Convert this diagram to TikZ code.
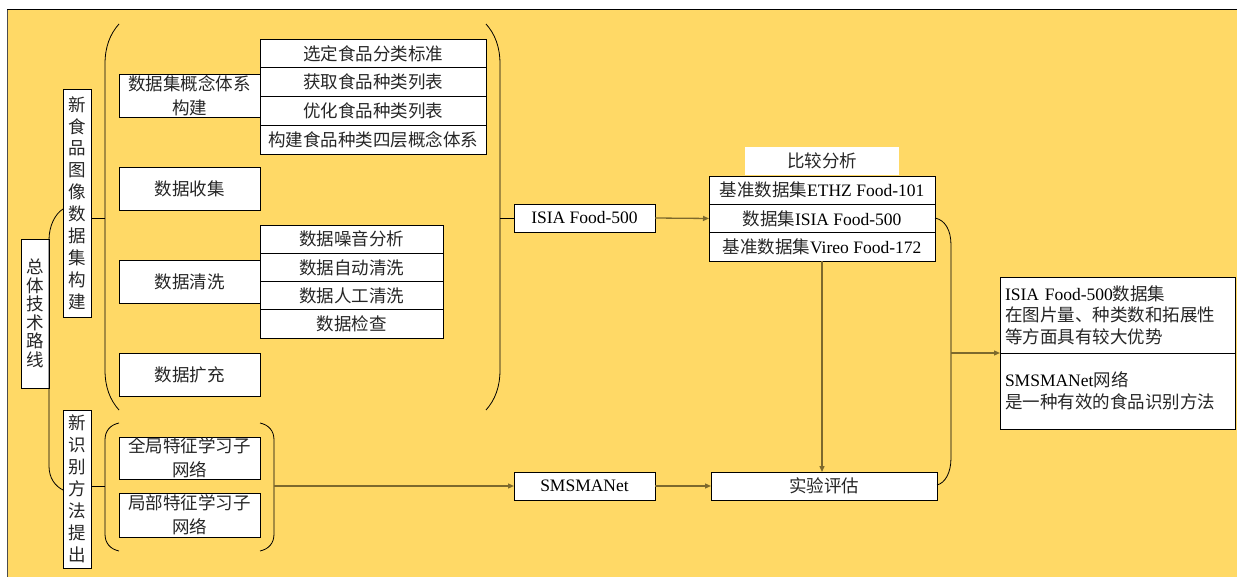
\documentclass[tikz,border=0pt]{standalone}
\usepackage{fontspec}
\setmainfont{Liberation Serif}
\newfontfamily\cjk{Noto Sans CJK SC}
\usetikzlibrary{arrows.meta}
\definecolor{bgy}{HTML}{FFD966}
\definecolor{linec}{RGB}{125,105,45}
\newcommand{\zh}[1]{{\cjk\color{black!85}#1}}
\newcommand{\fsz}[1]{\fontsize{17.5}{#1}\selectfont}
\tikzset{
  box/.style={draw=black, fill=white, line width=0.7pt, inner sep=0pt, outer sep=0pt,
    anchor=north west, align=center, font=\fsz{24}},
  brk/.style={draw=black, line width=0.8pt},
  conn/.style={draw=linec, line width=1.3pt, -{Triangle[length=6pt,width=5pt]}},
}
\begin{document}
\begin{tikzpicture}[x=1pt,y=-1pt]
\useasboundingbox (0,0) rectangle (1237,577);
% background
\fill[bgy] (7,10) rectangle (1237,577);
\draw[black, line width=1pt] (7,10) -- (1237,10);
\draw[gray!60!black, line width=1pt] (7,10) -- (7,577);

% left vertical boxes
\node[box, minimum width=28, minimum height=149, font=\fsz{18.5}] (zt) at (21,239) {\zh{总}\\\zh{体}\\\zh{技}\\\zh{术}\\\zh{路}\\\zh{线}};
\node[box, minimum width=28, minimum height=228, font=\fsz{21.9}] (xsp) at (63,89) {\zh{新}\\\zh{食}\\\zh{品}\\\zh{图}\\\zh{像}\\\zh{数}\\\zh{据}\\\zh{集}\\\zh{构}\\\zh{建}};
\node[box, minimum width=28, minimum height=158, font=\fsz{22}] (xsb) at (63,410) {\zh{新}\\\zh{识}\\\zh{别}\\\zh{方}\\\zh{法}\\\zh{提}\\\zh{出}};

% data set construction column
\node[box, minimum width=141, minimum height=43] (b1) at (119,74) {\zh{数据集概念体系}\\\zh{构建}};
\node[box, minimum width=141, minimum height=43] (b2) at (119,167) {\zh{数据收集}};
\node[box, minimum width=141, minimum height=43] (b3) at (119,260) {\zh{数据清洗}};
\node[box, minimum width=141, minimum height=43] (b4) at (119,353) {\zh{数据扩充}};

\node[box, minimum width=226, minimum height=28.75] (c1) at (260,39) {\zh{选定食品分类标准}};
\node[box, minimum width=226, minimum height=28.75] (c2) at (260,67.75) {\zh{获取食品种类列表}};
\node[box, minimum width=226, minimum height=28.75] (c3) at (260,96.5) {\zh{优化食品种类列表}};
\node[box, minimum width=226, minimum height=28.75] (c4) at (260,125.25) {\zh{构建食品种类四层概念体系}};

\node[box, minimum width=183, minimum height=28.25] (d1) at (260,225) {\zh{数据噪音分析}};
\node[box, minimum width=183, minimum height=28.25] (d2) at (260,253.25) {\zh{数据自动清洗}};
\node[box, minimum width=183, minimum height=28.25] (d3) at (260,281.5) {\zh{数据人工清洗}};
\node[box, minimum width=183, minimum height=28.25] (d4) at (260,309.75) {\zh{数据检查}};

% method column
\node[box, minimum width=141, minimum height=42] (g1) at (119,437) {\zh{全局特征学习子}\\\zh{网络}};
\node[box, minimum width=141, minimum height=44] (g2) at (119,493) {\zh{局部特征学习子}\\\zh{网络}};

% middle
\node[box, minimum width=141, minimum height=28] (isia) at (514,204) {ISIA Food-500};
\node[box, minimum width=141, minimum height=28] (sms) at (514,472) {SMSMANet};
\node[box, draw=none, minimum width=154, minimum height=28] (bj) at (745,147) {\zh{比较分析}};
\node[box, minimum width=226, minimum height=28.33] (e1) at (709,176) {\zh{基准数据集}ETHZ Food-101};
\node[box, minimum width=226, minimum height=28.33] (e2) at (709,204.33) {\zh{数据集}ISIA Food-500};
\node[box, minimum width=226, minimum height=28.33] (e3) at (709,232.67) {\zh{基准数据集}Vireo Food-172};
\node[box, minimum width=226, minimum height=28] (syp) at (711,472) {\zh{实验评估}};

% results
\node[box, minimum width=235, minimum height=76, align=left, text width=225, inner xsep=5pt, font=\fsz{21.5}] (r1) at (1000,277) {ISIA Food-500\zh{数据集}\\\zh{在图片量、种类数和拓展性}\\\zh{等方面具有较大优势}};
\node[box, minimum width=235, minimum height=76, align=left, text width=225, inner xsep=5pt, font=\fsz{21.5}] (r2) at (1000,353) {SMSMANet\zh{网络}\\\zh{是一种有效的食品识别方法}};

% brackets
\draw[brk] (63,209) .. controls (55,214) and (49,226) .. (49,240) -- (49,466) .. controls (49,478) and (55,486) .. (63,490);
\draw[brk] (119,24) .. controls (110,34) and (105,47) .. (105,64) -- (105,370) .. controls (105,387) and (110,400) .. (119,410);
\draw[brk] (486,24) .. controls (495,34) and (500,47) .. (500,64) -- (500,370) .. controls (500,387) and (495,400) .. (486,410);
\draw[brk] (119,423) .. controls (110,425) and (105,431) .. (105,440) -- (105,534) .. controls (105,543) and (110,549) .. (119,551);
\draw[brk] (260,423) .. controls (269,425) and (274,431) .. (274,440) -- (274,534) .. controls (274,543) and (269,549) .. (260,551);
\draw[brk] (935,218) .. controls (945,220) and (951,230) .. (951,245) -- (951,458) .. controls (951,473) and (945,483) .. (937,485);

\coordinate (pupR) at (500,218);
\coordinate (plowR) at (274,486);
\coordinate (rbR) at (951,353);

% connectors
\draw[brk] (xsp.east |- isia.west) -- ++(14,0);
\draw[brk] (pupR) -- (isia.west);
\draw[brk] (xsb.east |- sms.west) -- ++(14,0);
\draw[conn] (plowR) -- (sms.west);
\draw[conn] (isia.east) -- (e2.west);
\draw[conn] (sms.east) -- (syp.west);
\draw[conn] (e3.south) -- (e3.south |- syp.north);
\draw[conn] (rbR) -- (r1.south west);
\end{tikzpicture}
\end{document}
